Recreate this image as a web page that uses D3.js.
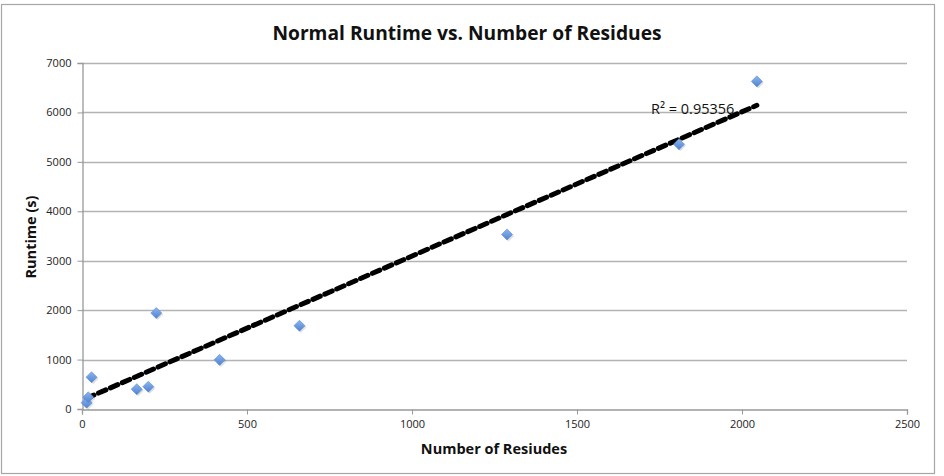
<!DOCTYPE html>
<html>
<head>
    <title>Normal Runtime vs. Number of Residues</title>
    <script src="https://d3js.org/d3.v7.min.js"></script>
    <style>
        body { margin: 0; background: #fff; }
        svg { display: block; }
    </style>
</head>
<body>
    <svg width="944" height="476"></svg>

    <script>
        // data
        var residues = [14, 19, 29, 166, 201, 225, 417, 659, 1288, 1809, 2045];
        var runtimes = [128, 237, 643, 400, 452, 1941, 994, 1684, 3530, 5356, 6628];
        var xTicks = [0, 500, 1000, 1500, 2000, 2500];
        var yTicks = [0, 1000, 2000, 3000, 4000, 5000, 6000, 7000];
        var rSquaredLabel = "R\u00b2 = 0.95356";

        var svg = d3.select('svg');
        var font = "'Open Sans', 'Liberation Sans', sans-serif";

        // outer frame
        svg.append('rect')
            .attr('x', 1.5).attr('y', 4.5)
            .attr('width', 933).attr('height', 469)
            .attr('fill', '#fff')
            .attr('stroke', '#a6a6a6')
            .attr('stroke-width', 1.2);

        var x = d3.scaleLinear().domain([0, 2500]).range([82, 907]);
        var y = d3.scaleLinear().domain([0, 7000]).range([409, 63]);

        // gridlines
        svg.append('g')
            .selectAll('line')
            .data(yTicks.slice(1))
            .enter()
            .append('line')
            .attr('x1', x(0)).attr('x2', x(2500))
            .attr('y1', function(d) { return Math.round(y(d)) + 0.5; })
            .attr('y2', function(d) { return Math.round(y(d)) + 0.5; })
            .attr('stroke', '#b3b3b3')
            .attr('stroke-width', 1.3);

        // axes
        var xAxis = svg.append('g')
            .attr('transform', 'translate(0,' + (Math.round(y(0)) + 0.5) + ')')
            .call(d3.axisBottom(x).tickValues(xTicks).tickSize(5).tickPadding(6).tickFormat(d3.format('d')));
        var yAxis = svg.append('g')
            .attr('transform', 'translate(' + (Math.round(x(0)) + 0.5) + ',0)')
            .call(d3.axisLeft(y).tickValues(yTicks).tickSize(5).tickPadding(6).tickFormat(d3.format('d')));

        [xAxis, yAxis].forEach(function(g) {
            g.select('.domain').attr('stroke', '#999').attr('stroke-width', 1.3);
            g.selectAll('.tick line').attr('stroke', '#999');
            g.selectAll('.tick text')
                .attr('fill', '#222')
                .style('font-family', font)
                .style('font-size', '11px');
        });

        // trendline (least squares fit over the points)
        var n = residues.length;
        var mx = d3.mean(residues), my = d3.mean(runtimes);
        var sxy = 0, sxx = 0;
        for (var i = 0; i < n; i++) {
            sxy += (residues[i] - mx) * (runtimes[i] - my);
            sxx += (residues[i] - mx) * (residues[i] - mx);
        }
        var slope = sxy / sxx, intercept = my - slope * mx;
        var x0 = d3.min(residues), x1 = d3.max(residues);

        svg.append('line')
            .attr('x1', x(x0)).attr('y1', y(slope * x0 + intercept))
            .attr('x2', x(x1)).attr('y2', y(slope * x1 + intercept))
            .attr('stroke', '#000')
            .attr('stroke-width', 5)
            .attr('stroke-linecap', 'round')
            .attr('stroke-dasharray', '8,5');

        // diamond markers
        var defs = svg.append('defs');
        var grad = defs.append('linearGradient')
            .attr('id', 'mk').attr('x1', 0).attr('y1', 0).attr('x2', 0).attr('y2', 1);
        grad.append('stop').attr('offset', '0%').attr('stop-color', '#8db6ee');
        grad.append('stop').attr('offset', '100%').attr('stop-color', '#4d82d0');

        var pts = residues.map(function(d, i) { return [d, runtimes[i]]; });
        var diamond = d3.symbol().type(d3.symbolDiamond2).size(78);

        svg.append('g')
            .selectAll('path.shadow')
            .data(pts)
            .enter()
            .append('path')
            .attr('d', diamond)
            .attr('transform', function(d) { return 'translate(' + (x(d[0]) + 1.5) + ',' + (y(d[1]) + 1.5) + ')'; })
            .attr('fill', '#000')
            .attr('opacity', 0.12);

        svg.append('g')
            .selectAll('path.pt')
            .data(pts)
            .enter()
            .append('path')
            .attr('d', diamond)
            .attr('transform', function(d) { return 'translate(' + x(d[0]) + ',' + y(d[1]) + ')'; })
            .attr('fill', 'url(#mk)')
            .attr('stroke', '#5a8bd4')
            .attr('stroke-width', 0.6);

        // R squared label
        svg.append('text')
            .attr('x', 651).attr('y', 114)
            .style('font-family', font)
            .style('font-size', '14.5px')
            .attr('fill', '#111')
            .text(rSquaredLabel);

        // titles
        svg.append('text')
            .attr('x', 467).attr('y', 40)
            .attr('text-anchor', 'middle')
            .style('font-family', font)
            .style('font-size', '19.2px')
            .style('font-weight', 'bold')
            .attr('fill', '#111')
            .text('Normal Runtime vs. Number of Residues');

        svg.append('text')
            .attr('x', 494).attr('y', 454)
            .attr('text-anchor', 'middle')
            .style('font-family', font)
            .style('font-size', '14.5px')
            .style('font-weight', 'bold')
            .attr('fill', '#111')
            .text('Number of Resiudes');

        svg.append('text')
            .attr('transform', 'translate(36,237) rotate(-90)')
            .attr('text-anchor', 'middle')
            .style('font-family', font)
            .style('font-size', '14.5px')
            .style('font-weight', 'bold')
            .attr('fill', '#111')
            .text('Runtime (s)');
    </script>
</body>
</html>
